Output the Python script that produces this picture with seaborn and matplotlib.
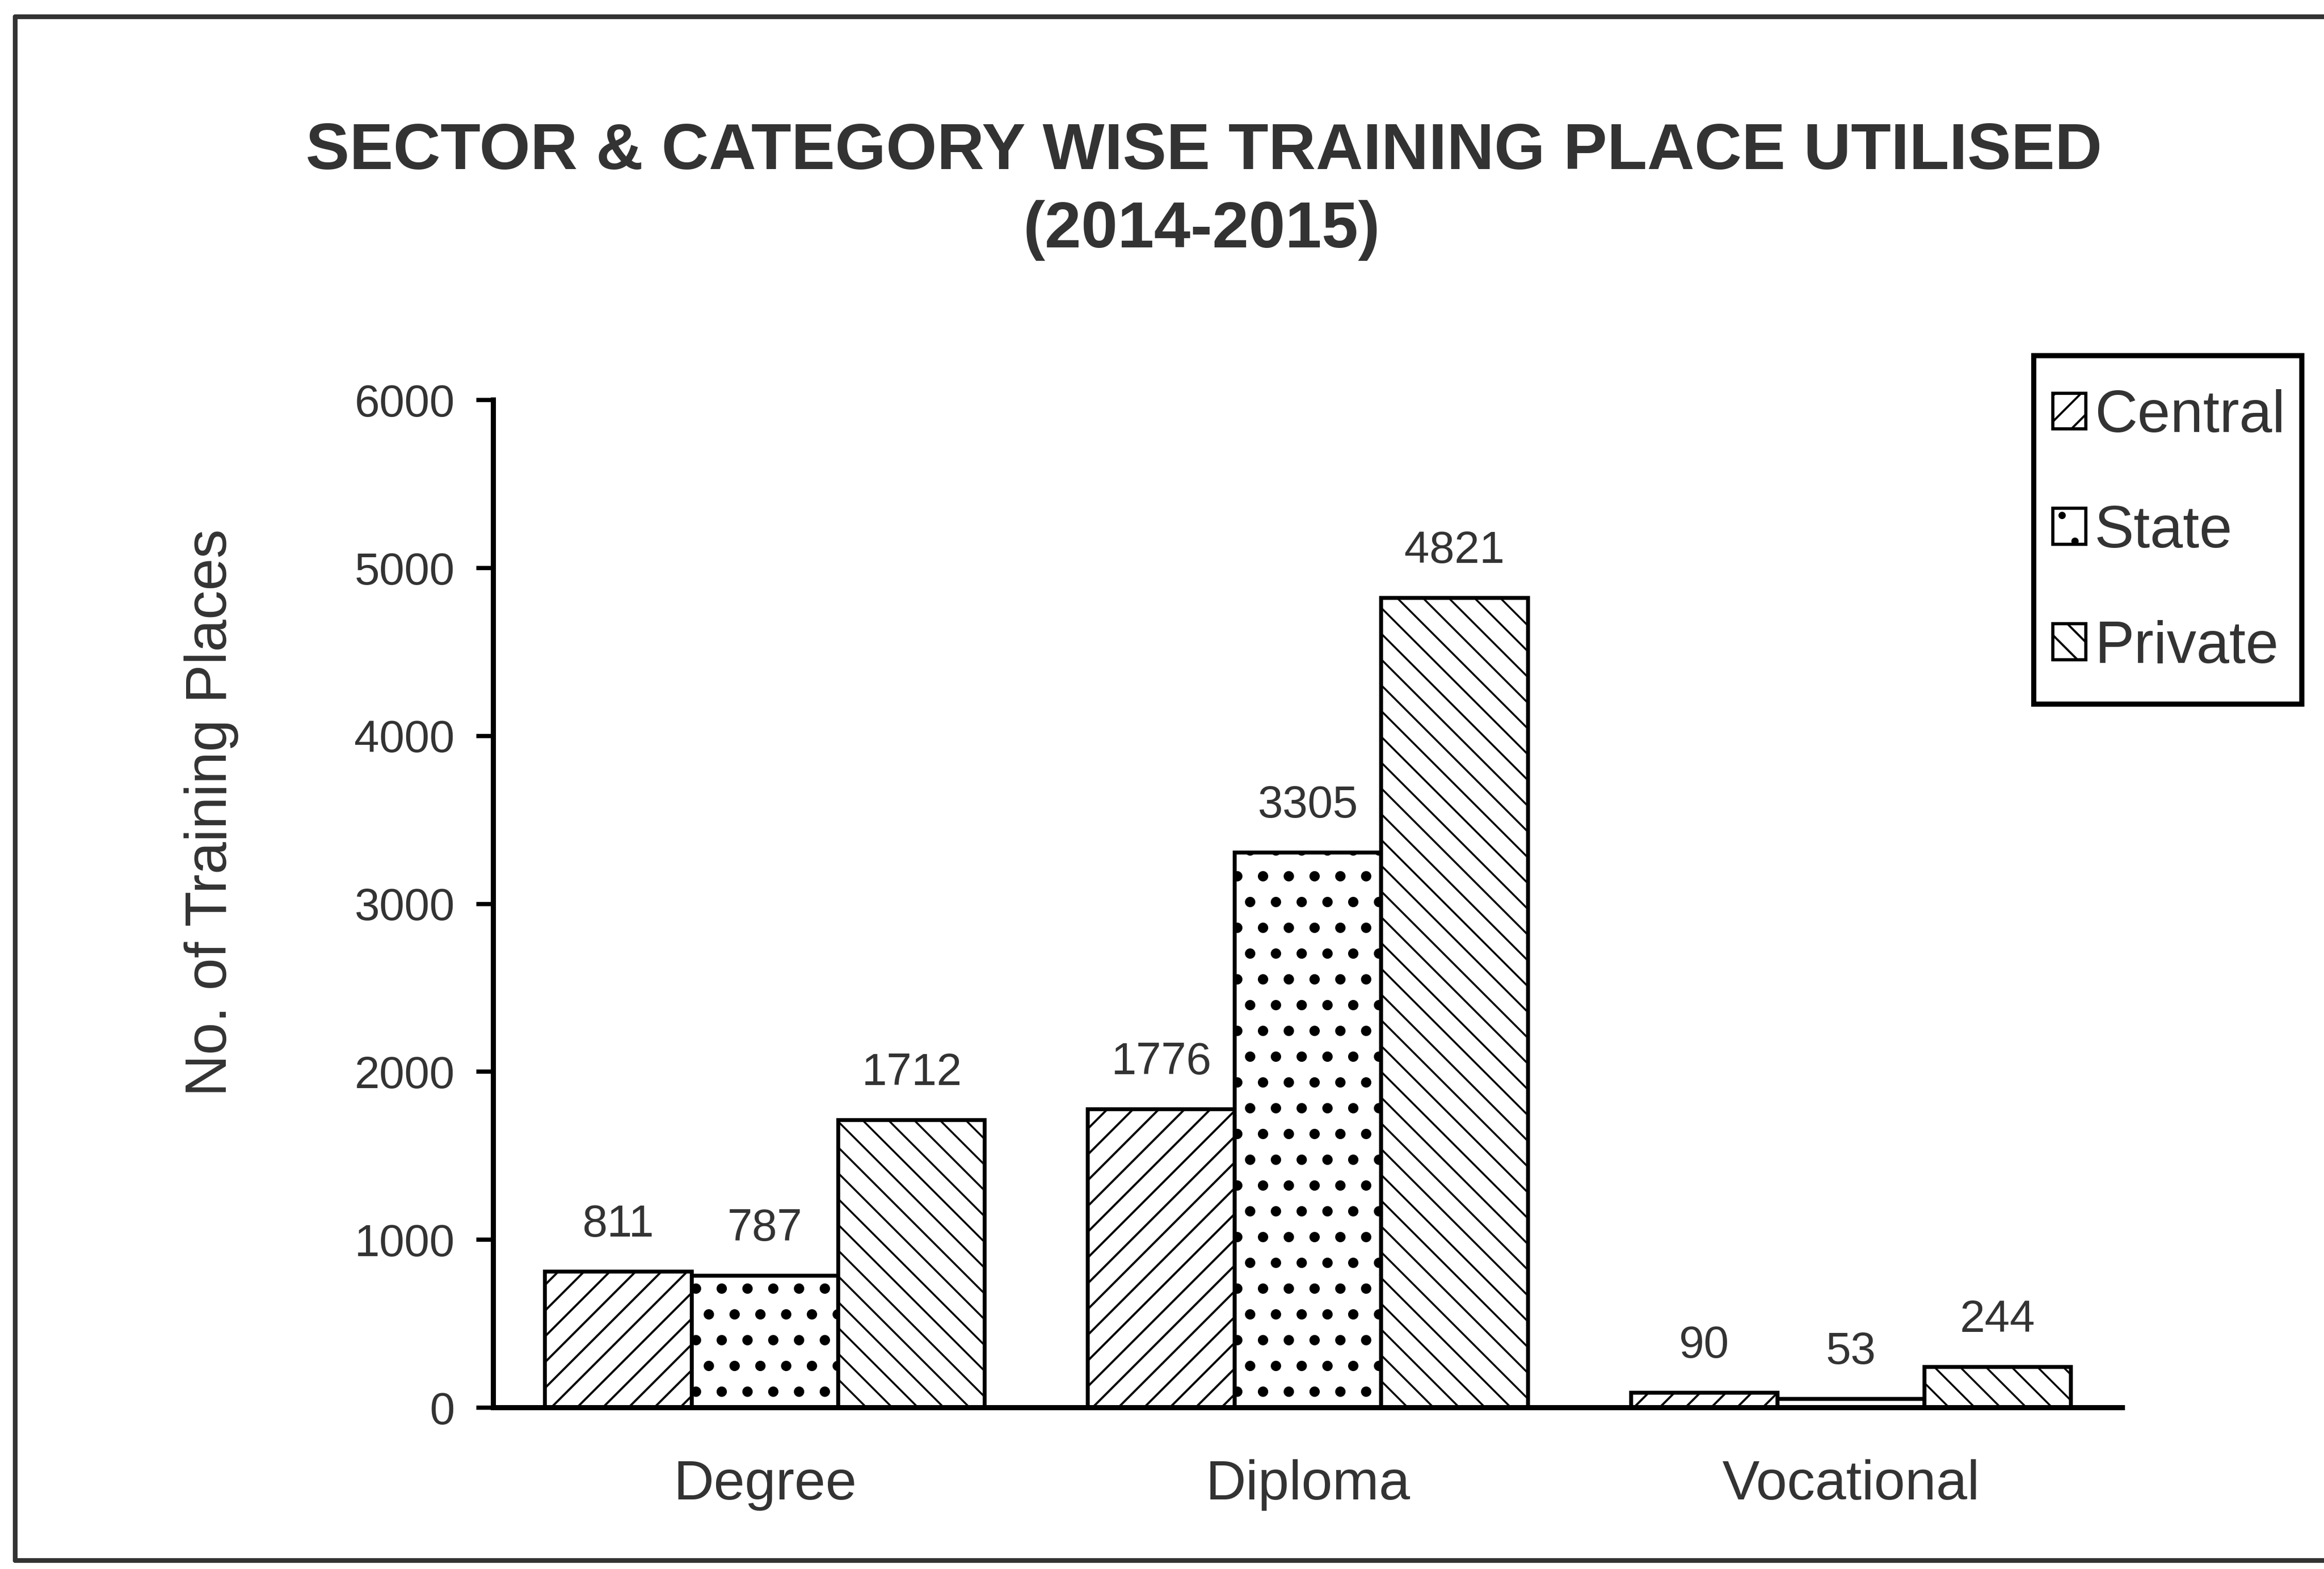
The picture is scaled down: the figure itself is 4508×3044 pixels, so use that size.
import matplotlib
matplotlib.use("Agg")
import matplotlib.pyplot as plt
from matplotlib.patches import Patch, Rectangle
from matplotlib.lines import Line2D
import seaborn as sns
import pandas as pd

# ---- data ----
categories = ["Degree", "Diploma", "Vocational"]
sectors = ["Central", "State", "Private"]
central = [811, 1776, 90]
state = [787, 3305, 53]
private = [1712, 4821, 244]
y_ticks = [0, 1000, 2000, 3000, 4000, 5000, 6000]

title_line1 = "SECTOR & CATEGORY WISE TRAINING PLACE UTILISED"
title_line2 = "(2014-2015)"
y_label = "No. of Training Places"

rows = []
for sec, vals in zip(sectors, [central, state, private]):
    for cat, v in zip(categories, vals):
        rows.append({"Category": cat, "Sector": sec, "Value": v})
df = pd.DataFrame(rows)

sns.set_style("white")
plt.rcParams["font.family"] = ["Liberation Sans", "DejaVu Sans"]
plt.rcParams["hatch.linewidth"] = 1.0

TXT = "#333333"
fig = plt.figure(figsize=(4508 / 300, 3044 / 300), dpi=300)
fig.patch.set_facecolor("white")
ax = fig.add_axes([0.2123, 0.1028, 0.7010, 0.6422])

sns.barplot(data=df, x="Category", y="Value", hue="Sector",
            order=categories, hue_order=sectors,
            palette=["white"] * 3, saturation=1, edgecolor="black",
            linewidth=1.8, width=0.81, gap=0, errorbar=None,
            legend=False, ax=ax)

hatches = ["//", ".", "\\\\"]
hatch_lw = [1.0, 2.4, 0.9]


def set_hlw(p, lw):
    if hasattr(p, "set_hatch_linewidth"):
        p.set_hatch_linewidth(lw)
    else:
        p._hatch_linewidth = lw


for cont, h, hl in zip(ax.containers, hatches, hatch_lw):
    for bar in cont:
        bar.set_hatch(h)
        bar.set_edgecolor("black")
        set_hlw(bar, hl)
    ax.bar_label(cont, padding=12, fontsize=21, color=TXT)

ax.set_xlim(-0.5, 2.5)
ax.set_ylim(0, 6000)
ax.set_yticks(y_ticks)
ax.set_yticklabels([str(t) for t in y_ticks], fontsize=21, color=TXT)
ax.set_xticks(range(len(categories)))
ax.set_xticklabels(categories, fontsize=26, color=TXT)
ax.set_xticks([-0.5, 0.5, 1.5, 2.5], minor=True)
ax.tick_params(axis="x", which="major", length=0, pad=24)
ax.tick_params(axis="x", which="minor", length=8, width=2, color="black", direction="out")
ax.tick_params(axis="y", length=8, width=2, color="black", direction="out", pad=10, left=True)
ax.set_xlabel("")
ax.set_ylabel("")
for s in ["top", "right"]:
    ax.spines[s].set_visible(False)
for s in ["left", "bottom"]:
    ax.spines[s].set_color("black")
    ax.spines[s].set_linewidth(2.4)
ax.set_facecolor("white")

fig.text(0.091, 0.482, y_label, rotation=90, ha="center", va="center",
         fontsize=27, color=TXT)
fig.text(0.518, 0.903, title_line1, ha="center", va="center",
         fontsize=30.5, fontweight="bold", color=TXT)
fig.text(0.517, 0.853, title_line2, ha="center", va="center",
         fontsize=30.5, fontweight="bold", color=TXT)

# legend box (frame drawn separately)
fig.add_artist(Rectangle((0.8751, 0.5512), 0.9905 - 0.8751, 0.7733 - 0.5512,
                         transform=fig.transFigure, facecolor="white",
                         edgecolor="black", linewidth=2.4, zorder=5))
handles = [Patch(facecolor="white", edgecolor="black", hatch=h, linewidth=1.5)
           for h in hatches]
leg = fig.legend(handles, sectors, loc="upper left",
                 bbox_to_anchor=(0.8833, 0.7520), frameon=False,
                 fontsize=27.5, handlelength=0.56, handleheight=0.56,
                 handletextpad=0.15, labelspacing=1.02,
                 borderpad=0, borderaxespad=0)
leg.set_zorder(6)
for t in leg.get_texts():
    t.set_color(TXT)

# outer border (top, left, bottom)
fig.add_artist(Line2D([0.0064, 1.0], [0.9895, 0.9895], transform=fig.transFigure,
                      color=TXT, linewidth=2.2))
fig.add_artist(Line2D([0.0064, 0.0064], [0.0056, 0.9895], transform=fig.transFigure,
                      color=TXT, linewidth=2.2))
fig.add_artist(Line2D([0.0064, 1.0], [0.0056, 0.0056], transform=fig.transFigure,
                      color=TXT, linewidth=2.2))

fig.savefig("out.png", dpi=300, facecolor="white")
